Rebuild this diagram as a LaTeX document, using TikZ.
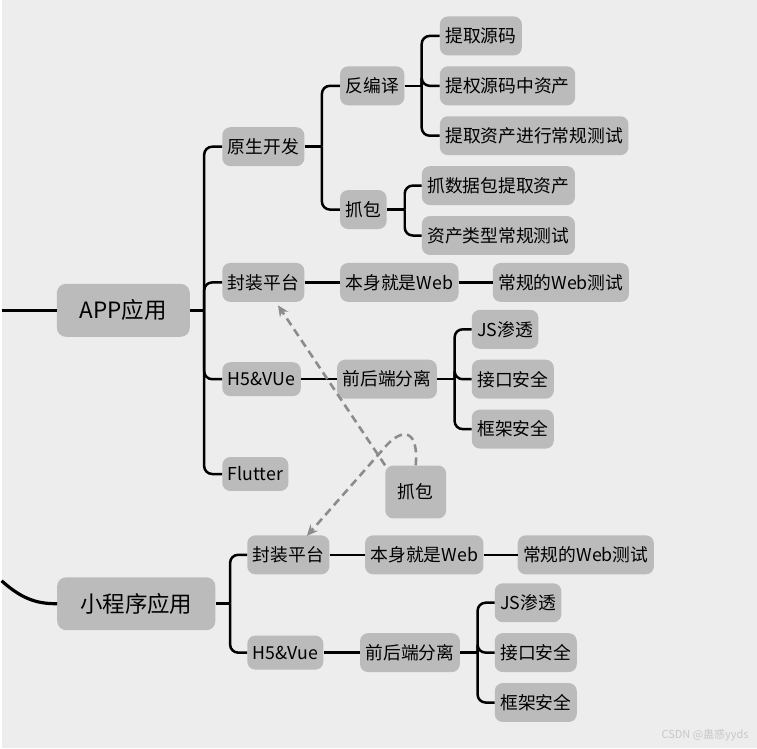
\documentclass[tikz,border=0pt]{standalone}
\usepackage{fontspec}
\setmainfont{Noto Sans CJK SC}
\usetikzlibrary{arrows.meta}
\definecolor{bgcol}{RGB}{237,237,237}
\definecolor{boxcol}{RGB}{187,187,187}
\definecolor{dashcol}{RGB}{140,140,140}
\definecolor{markcol}{RGB}{200,200,200}
\tikzset{%
  topic/.style={fill=boxcol, rounded corners=9pt, minimum height=53pt, inner xsep=23pt,
                font=\fontsize{22.5}{25}\selectfont},
  leaf/.style={fill=boxcol, rounded corners=8pt, minimum height=39pt, inner xsep=5.5pt,
               font=\fontsize{17.8}{20}\selectfont},
  latin/.style={leaf, minimum height=34pt},
  branch/.style={line width=2.5pt, rounded corners=8pt},
  grab/.style={draw=dashcol, line width=2.6pt, dash pattern=on 8pt off 5pt,
               -{Stealth[length=11pt,width=10pt]}},
}

\begin{document}
\begin{tikzpicture}[x=1pt, y=-1pt]
    \fill[bgcol] (0,0) rectangle (757,750);

    % main topics
    \node[topic] (app) at (122,311) {APP应用};
    \node[topic] (mini) at (135,605) {小程序应用};
    \coordinate (appin) at (0,311);
    \coordinate (miniin) at (0,582);
    \draw[line width=3.2pt] (appin) -- (app.west);
    \draw[line width=3.2pt] (miniin) .. controls (22,602) and (38,605) .. (mini.west);

    % APP branches
    \node[leaf, anchor=west] (ysky) at (221,147) {原生开发};
    \node[leaf, anchor=west] (fzpt) at (221,283) {封装平台};
    \node[latin, anchor=west] (h5vue) at (221,380) {H5\&VUe};
    \node[latin, anchor=west] (flutter) at (221,475) {Flutter};
    \coordinate (t1) at (203,0);
    \draw[branch] (app.east) -- (app.east -| t1);
    \foreach \c in {ysky,fzpt,h5vue,flutter}
        \draw[branch] (app.east -| t1) |- (\c.west);

    % native
    \node[leaf, anchor=west] (fby) at (339,86) {反编译};
    \node[leaf, anchor=west] (zb) at (339,210) {抓包};
    \coordinate (t2) at (321,0);
    \draw[branch] (ysky.east) -- (ysky.east -| t2);
    \foreach \c in {fby,zb}
        \draw[branch] (ysky.east -| t2) |- (\c.west);

    \node[leaf, anchor=west] (tqym) at (439,36) {提取源码};
    \node[leaf, anchor=west] (tqzc) at (439,86) {提权源码中资产};
    \node[leaf, anchor=west] (cgcs) at (439,136) {提取资产进行常规测试};
    \coordinate (t3) at (421,0);
    \draw[branch] (fby.east) -- (fby.east -| t3);
    \foreach \c in {tqym,tqzc,cgcs}
        \draw[branch] (fby.east -| t3) |- (\c.west);

    \node[leaf, anchor=west] (zsjb) at (421,186) {抓数据包提取资产};
    \node[leaf, anchor=west] (lxcs) at (421,236) {资产类型常规测试};
    \coordinate (t4) at (404,0);
    \draw[branch] (zb.east) -- (zb.east -| t4);
    \foreach \c in {zsjb,lxcs}
        \draw[branch] (zb.east -| t4) |- (\c.west);

    % packaged platform
    \node[leaf, anchor=west] (bsweb) at (339,283) {本身就是Web};
    \node[leaf, anchor=west] (cgweb) at (492,283) {常规的Web测试};
    \draw[branch] (fzpt) -- (bsweb) -- (cgweb);

    % H5
    \node[leaf, anchor=west] (qhd) at (336,380) {前后端分离};
    \draw[branch] (h5vue) -- (qhd);
    \node[leaf, anchor=west] (js) at (471,330) {JS渗透};
    \node[leaf, anchor=west] (jk) at (471,380) {接口安全};
    \node[leaf, anchor=west] (kj) at (471,430) {框架安全};
    \coordinate (t5) at (454,0);
    \draw[branch] (qhd.east) -- (qhd.east -| t5);
    \foreach \c in {js,jk,kj}
        \draw[branch] (qhd.east -| t5) |- (\c.west);

    % mini program branches
    \node[leaf, anchor=west] (mfzpt) at (246,556) {封装平台};
    \node[latin, anchor=west] (mh5vue) at (246,654) {H5\&Vue};
    \coordinate (t6) at (229,0);
    \draw[branch] (mini.east) -- (mini.east -| t6);
    \foreach \c in {mfzpt,mh5vue}
        \draw[branch] (mini.east -| t6) |- (\c.west);

    \node[leaf, anchor=west] (mbsweb) at (364,556) {本身就是Web};
    \node[leaf, anchor=west] (mcgweb) at (517,556) {常规的Web测试};
    \draw[branch] (mfzpt) -- (mbsweb) -- (mcgweb);

    \node[leaf, anchor=west] (mqhd) at (359,654) {前后端分离};
    \draw[branch] (mh5vue) -- (mqhd);
    \node[leaf, anchor=west] (mjs) at (494,604) {JS渗透};
    \node[leaf, anchor=west] (mjk) at (494,654) {接口安全};
    \node[leaf, anchor=west] (mkj) at (494,704) {框架安全};
    \coordinate (t7) at (477,0);
    \draw[branch] (mqhd.east) -- (mqhd.east -| t7);
    \foreach \c in {mjs,mjk,mkj}
        \draw[branch] (mqhd.east -| t7) |- (\c.west);

    % floating capture node
    \node[leaf, minimum width=61pt, minimum height=53pt] (zbf) at (415,493) {抓包};
    \coordinate (tip1) at (277,306);
    \coordinate (tip2) at (306,537);
    \draw[grab] (zbf.north west) -- (tip1);
    \draw[grab] (zbf.north) .. controls (418,430) and (402,429) .. (386,446) -- (tip2);

    \node[text=markcol, font=\fontsize{11}{13}\selectfont, anchor=east] (mark) at (752,737) {CSDN @蛊惑yyds};
\end{tikzpicture}
\end{document}
